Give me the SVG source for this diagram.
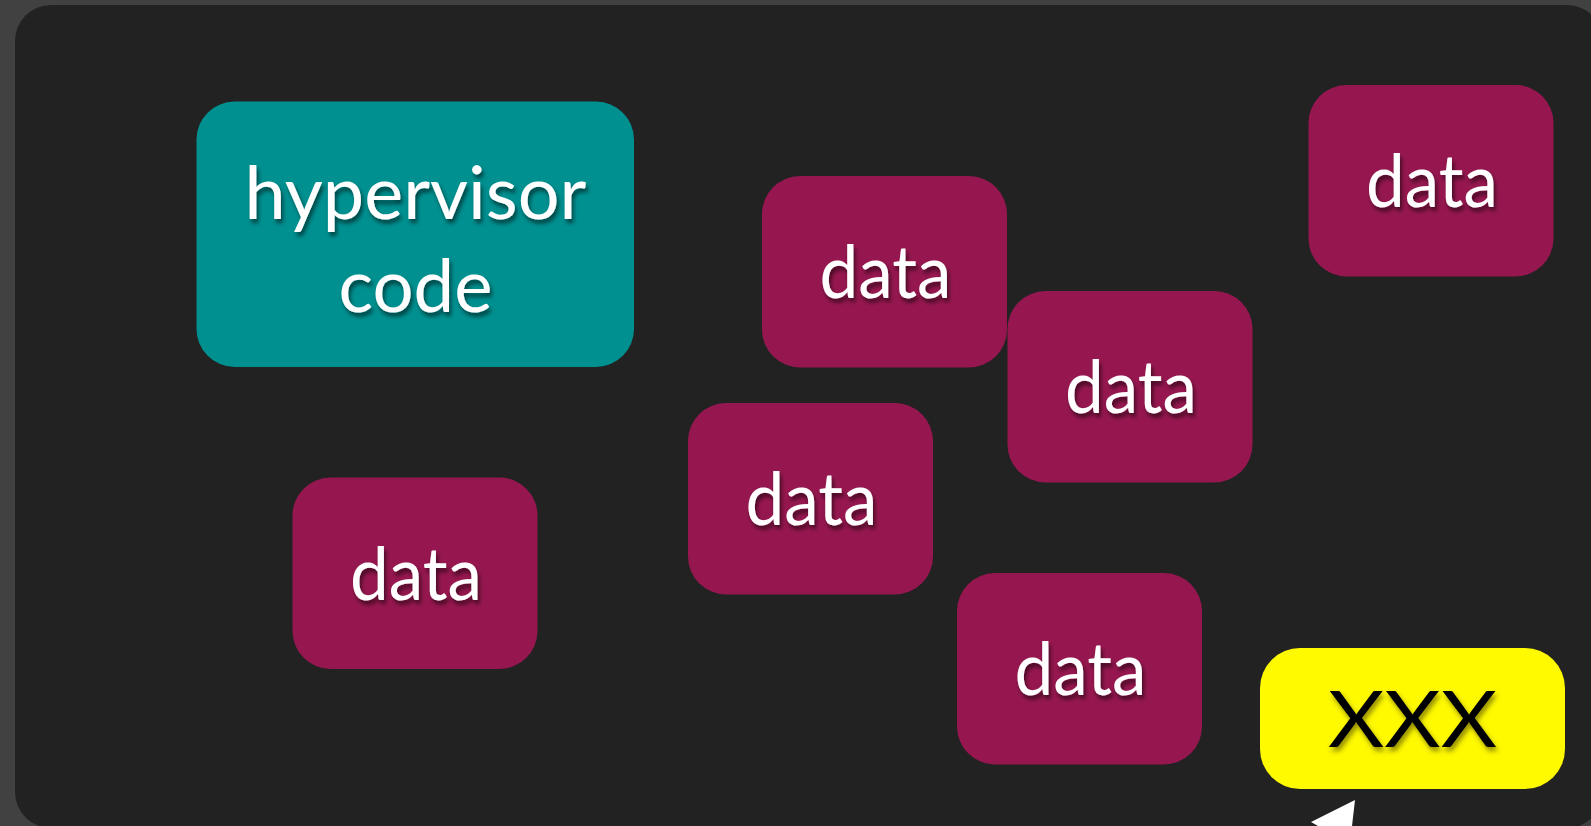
<svg xmlns="http://www.w3.org/2000/svg" width="1591" height="826" viewBox="0 0 1591 826">
  <defs>
    <style>
      .panel { fill: #222222; }
      .code { fill: #009090; }
      .data { fill: #96174f; }
      .flag { fill: #fffa00; }
      .lbl { font-family: Lato, "Open Sans", "Noto Sans", sans-serif; font-size: 74px; fill: #ffffff; text-anchor: middle; filter: url(#txtShadow); }
      .lbl-dark { font-family: Lato, "Open Sans", "Noto Sans", sans-serif; font-size: 77px; fill: #000000; text-anchor: middle; filter: url(#txtShadowDark); }
      .pointer { fill: #ffffff; }
    </style>
    <filter id="txtShadow" x="-20%" y="-30%" width="140%" height="160%">
      <feGaussianBlur in="SourceAlpha" stdDeviation="2.2"/>
      <feOffset dx="2" dy="4" result="b"/>
      <feFlood flood-color="#000000" flood-opacity="0.55"/>
      <feComposite in2="b" operator="in"/>
      <feMerge><feMergeNode/><feMergeNode in="SourceGraphic"/></feMerge>
    </filter>
    <filter id="txtShadowDark" x="-20%" y="-30%" width="140%" height="160%">
      <feGaussianBlur in="SourceAlpha" stdDeviation="2.5"/>
      <feOffset dx="2" dy="4" result="b"/>
      <feFlood flood-color="#4a4400" flood-opacity="0.6"/>
      <feComposite in2="b" operator="in"/>
      <feMerge><feMergeNode/><feMergeNode in="SourceGraphic"/></feMerge>
    </filter>
  </defs>

  <!-- backdrop and main panel -->
  <rect x="0" y="0" width="1591" height="826" fill="#414141"/>
  <rect class="panel" x="15" y="5" width="1588" height="823" rx="36" ry="36"/>

  <g id="hypervisor-code">
    <rect class="code" x="196.5" y="101.5" width="437.5" height="265.5" rx="38" ry="38"/>
    <text class="lbl" x="415.5" y="218.5" textLength="342" lengthAdjust="spacingAndGlyphs">hypervisor</text>
    <text class="lbl" x="415.5" y="311.5" textLength="154" lengthAdjust="spacingAndGlyphs">code</text>
  </g>

  <g id="data-1">
    <rect class="data" x="762" y="176" width="245" height="191.5" rx="38" ry="38"/>
    <text class="lbl" x="885.5" y="298" textLength="132" lengthAdjust="spacingAndGlyphs">data</text>
  </g>

  <g id="data-2">
    <rect class="data" x="1308.5" y="85" width="245" height="191.5" rx="38" ry="38"/>
    <text class="lbl" x="1432" y="207" textLength="132" lengthAdjust="spacingAndGlyphs">data</text>
  </g>

  <g id="data-3">
    <rect class="data" x="1007.5" y="291" width="245" height="191.5" rx="38" ry="38"/>
    <text class="lbl" x="1131" y="413" textLength="132" lengthAdjust="spacingAndGlyphs">data</text>
  </g>

  <g id="data-4">
    <rect class="data" x="688" y="403" width="245" height="191.5" rx="38" ry="38"/>
    <text class="lbl" x="811.5" y="525" textLength="132" lengthAdjust="spacingAndGlyphs">data</text>
  </g>

  <g id="data-5">
    <rect class="data" x="292.5" y="477.5" width="245" height="191.5" rx="38" ry="38"/>
    <text class="lbl" x="416" y="599.5" textLength="132" lengthAdjust="spacingAndGlyphs">data</text>
  </g>

  <g id="data-6">
    <rect class="data" x="957" y="573" width="245" height="191.5" rx="38" ry="38"/>
    <text class="lbl" x="1080.5" y="695" textLength="132" lengthAdjust="spacingAndGlyphs">data</text>
  </g>

  <g id="xxx">
    <rect class="flag" x="1260" y="648" width="305" height="141" rx="40" ry="40"/>
    <text class="lbl-dark" x="1412.5" y="746.5" textLength="169" lengthAdjust="spacingAndGlyphs">XXX</text>
  </g>

  <!-- connectors: arrowhead entering from below the frame -->
  <g id="connectors">
    <path class="pointer" d="M1355,800 L1311,822 L1318,826 L1352,826 Z"/>
  </g>
</svg>
